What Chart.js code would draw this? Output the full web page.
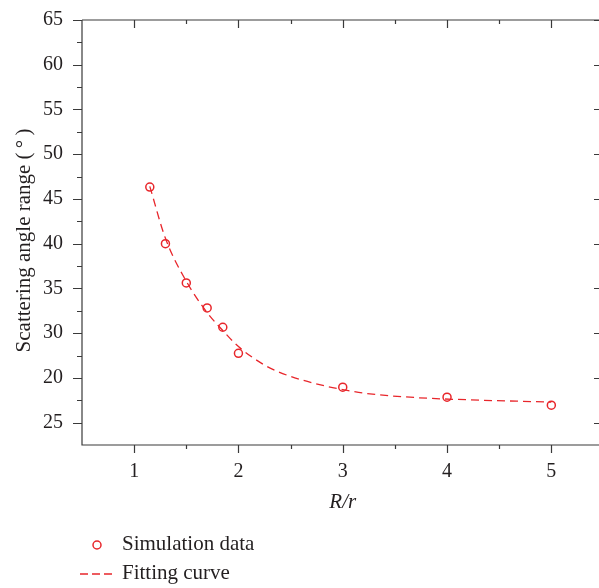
<!DOCTYPE html>
<html>
<head>
<meta charset="utf-8">
<script src="https://cdn.jsdelivr.net/npm/chart.js@4/dist/chart.umd.min.js"></script>
<style>
  html, body { margin: 0; background: #fff; overflow: hidden; }
  #wrap { position: relative; width: 599px; height: 588px; }
  #chart { display: block; }
  .legend { position: absolute; left: 78px; font-family: "Liberation Serif", serif; font-size: 21px; color: #231f20; }
  .legend div { height: 29px; line-height: 29px; white-space: nowrap; }
  .legend svg { vertical-align: middle; margin-right: 8px; }
</style>
</head>
<body>
<div id="wrap">
  <canvas id="chart" width="599" height="588"></canvas>
  <div class="legend" style="top: 529px;">
    <div><svg width="36" height="14"><circle cx="19" cy="7" r="4" fill="none" stroke="#e8262b" stroke-width="1.5"/></svg>Simulation data</div>
    <div><svg width="36" height="14"><line x1="2" y1="7" x2="36" y2="7" stroke="#e8262b" stroke-width="1.3" stroke-dasharray="8,4"/></svg>Fitting curve</div>
  </div>
</div>
<script>
var simX = [1.15, 1.3, 1.5, 1.7, 1.85, 2.0, 3.0, 4.0, 5.0];
var simY = [46.33, 40.0, 35.61, 32.82, 30.66, 27.75, 23.96, 22.85, 21.95];

var fitX = [1.15, 1.3, 1.5, 1.7, 1.85, 2.0, 2.24, 2.4, 2.6, 2.83, 3.0, 3.2, 3.7, 4.35, 4.83, 5.0];
var fitY = [46.4, 40.6, 35.8, 32.3, 30.3, 28.5, 26.5, 25.6, 24.8, 24.1, 23.7, 23.3, 22.8, 22.5, 22.35, 22.3];

var xTickValues = [1, 2, 3, 4, 5];
var xTickLabels = ["1", "2", "3", "4", "5"];
var xMinorValues = [1.5, 2.5, 3.5, 4.5];

var yTickValues = [65, 60, 55, 50, 45, 40, 35, 30, 25, 20];
var yTickLabels = ["65", "60", "55", "50", "45", "40", "35", "30", "20", "25"];
var yMinorValues = [62.5, 57.5, 52.5, 47.5, 42.5, 37.5, 32.5, 27.5, 22.5];

var RED = "#e8262b";
var AXIS = "#3a3a3a";
var TEXT = "#231f20";
var FONT = '"Liberation Serif", serif';

function toPoints(xs, ys) {
  var pts = [];
  for (var i = 0; i < xs.length; i++) {
    pts.push({ x: xs[i], y: ys[i] });
  }
  return pts;
}

// frame, tick marks and labels drawn by hand so major/minor ticks can differ
var framePlugin = {
  id: "frame",
  afterDraw: function (chart) {
    var ctx = chart.ctx;
    var a = chart.chartArea;
    var xs = chart.scales.x;
    var ys = chart.scales.y;
    var i, p;

    ctx.save();
    ctx.strokeStyle = AXIS;
    ctx.lineWidth = 1.2;

    ctx.beginPath();
    ctx.moveTo(a.left, a.top);
    ctx.lineTo(a.right, a.top);
    ctx.moveTo(a.left, a.top);
    ctx.lineTo(a.left, a.bottom);
    ctx.lineTo(a.right, a.bottom);
    ctx.stroke();

    ctx.beginPath();
    for (i = 0; i < xTickValues.length; i++) {
      p = Math.round(xs.getPixelForValue(xTickValues[i])) + 0.5;
      ctx.moveTo(p, a.bottom); ctx.lineTo(p, a.bottom + 8);
      ctx.moveTo(p, a.top); ctx.lineTo(p, a.top + 8);
    }
    for (i = 0; i < xMinorValues.length; i++) {
      p = Math.round(xs.getPixelForValue(xMinorValues[i])) + 0.5;
      ctx.moveTo(p, a.bottom); ctx.lineTo(p, a.bottom + 4);
      ctx.moveTo(p, a.top); ctx.lineTo(p, a.top + 4);
    }
    for (i = 0; i < yTickValues.length; i++) {
      p = Math.round(ys.getPixelForValue(yTickValues[i])) + 0.5;
      ctx.moveTo(a.left, p); ctx.lineTo(a.left - 9, p);
      ctx.moveTo(a.right, p); ctx.lineTo(a.right - 5, p);
    }
    for (i = 0; i < yMinorValues.length; i++) {
      p = Math.round(ys.getPixelForValue(yMinorValues[i])) + 0.5;
      ctx.moveTo(a.left, p); ctx.lineTo(a.left - 5, p);
    }
    ctx.stroke();

    ctx.fillStyle = TEXT;
    ctx.font = "20px " + FONT;
    ctx.textAlign = "right";
    ctx.textBaseline = "middle";
    for (i = 0; i < yTickValues.length; i++) {
      ctx.fillText(yTickLabels[i], a.left - 19, ys.getPixelForValue(yTickValues[i]));
    }
    ctx.textAlign = "center";
    for (i = 0; i < xTickValues.length; i++) {
      ctx.fillText(xTickLabels[i], xs.getPixelForValue(xTickValues[i]), a.bottom + 27);
    }

    ctx.font = "italic 21px " + FONT;
    ctx.fillText("R/r", xs.getPixelForValue(3), a.bottom + 57);

    ctx.translate(24, (a.top + a.bottom) / 2 + 8);
    ctx.rotate(-Math.PI / 2);
    ctx.font = "21px " + FONT;
    ctx.fillText("Scattering angle range (\u2009\u00b0\u2009)", 0, 0);
    ctx.restore();
  }
};

var chart = new Chart(document.getElementById("chart").getContext("2d"), {
  type: "scatter",
  data: {
    datasets: [{
      label: "Fitting curve",
      data: toPoints(fitX, fitY),
      showLine: true,
      borderColor: RED,
      borderWidth: 1.3,
      borderDash: [8, 5],
      cubicInterpolationMode: "monotone",
      pointRadius: 0,
      order: 2
    }, {
      label: "Simulation data",
      data: toPoints(simX, simY),
      showLine: false,
      pointRadius: 4,
      pointBorderWidth: 1.5,
      pointBorderColor: RED,
      pointBackgroundColor: "rgba(0,0,0,0)",
      order: 1
    }]
  },
  options: {
    responsive: false,
    animation: false,
    layout: { autoPadding: false, padding: { left: 82, top: 20, right: 0, bottom: 143 } },
    plugins: { legend: { display: false }, tooltip: { enabled: false } },
    scales: {
      x: { type: "linear", display: false, min: 0.5, max: 5.457 },
      y: { type: "linear", display: false, min: 17.5, max: 65 }
    }
  },
  plugins: [framePlugin]
});
</script>
</body>
</html>
